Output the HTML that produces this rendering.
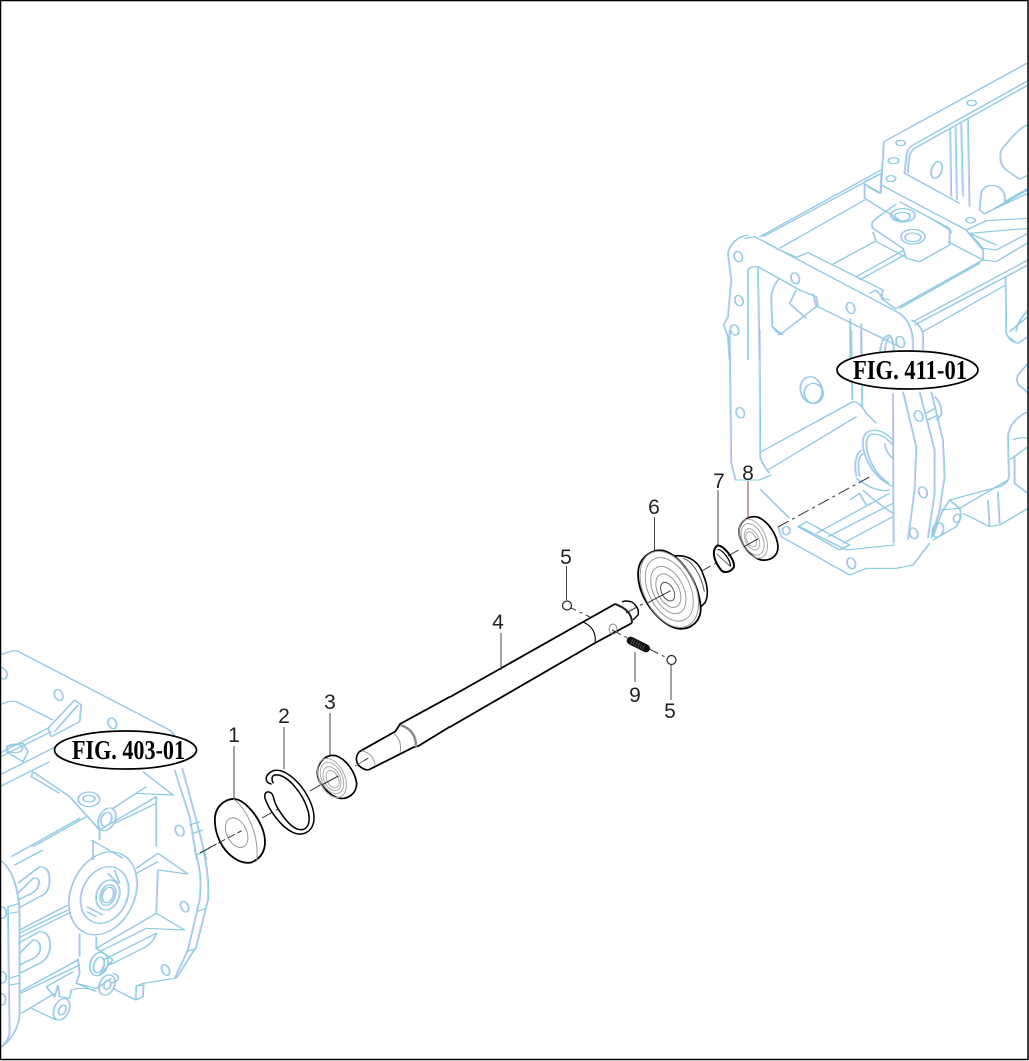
<!DOCTYPE html>
<html><head><meta charset="utf-8"><style>
html,body{margin:0;padding:0;background:#fff}
svg{display:block}
.n{font-family:"Liberation Sans",sans-serif;font-size:21px;fill:#222;text-anchor:middle}
.f{font-family:"Liberation Serif",serif;font-size:27px;font-weight:bold;fill:#000}
.h path,.h ellipse{vector-effect:non-scaling-stroke;fill:none}
.k *{vector-effect:non-scaling-stroke}
</style></head><body>
<svg width="1029" height="1061" viewBox="0 0 1029 1061" xmlns="http://www.w3.org/2000/svg">
<rect width="1029" height="1061" fill="#fff"/>
<defs>
<g id="hs" class="h">
<!-- right housing, upper -->
<g transform="translate(700 60) scale(.33333)">
<path d="M985 8L553 245L543 400M985 62L640 255Q622 265 620 290L615 340L780 430M985 75L645 265Q630 275 628 295L625 340"/>
<path d="M752 205L755 410M768 200L772 420M785 190L790 410M805 178L810 440"/>
<path d="M985 195Q960 200 905 270Q895 310 920 330L960 358L985 345M985 385L915 425Q920 390 890 378Q860 370 845 395L840 450L855 462L985 390M860 458L985 400"/>
<path d="M545 375L800 510L850 570L850 600L890 605L985 548M985 475L860 482L800 510M985 505L810 520L850 565L890 570L985 520M600 425L750 505L755 520M810 520L890 555"/>
<path d="M180 530L545 330M190 530L545 340M240 565L495 420M495 365L545 340L543 400L495 372L495 415L600 480M505 380L540 400"/>
<path d="M530 475L590 432M530 475Q510 490 520 505L610 565L620 595L660 605L750 555L750 510L690 472M520 515L530 545L615 590M745 545L850 600"/>
<path d="M400 612L525 545M470 650L610 572M480 660L615 585M590 745L850 600"/>
<path d="M165 530L600 760Q640 790 640 850L640 900M145 525Q95 535 85 580L95 660L85 770L72 795L85 830L90 900M135 535L165 530L240 570L290 592L325 578L550 690L545 715L590 748M510 700L530 690L550 715L570 720"/>
<path d="M145 900L145 630Q150 618 175 620L300 690L350 710L355 740L600 860M175 620L180 900M240 655Q215 680 215 720L218 800L240 825L350 740L340 700M290 690L270 730L320 775M218 800L250 825M452 900L452 775M485 900L485 790M540 900Q540 830 570 825Q590 850 578 900M555 900Q555 840 570 830"/>
<ellipse cx="816" cy="129" rx="14" ry="8"/><ellipse cx="603" cy="249" rx="14" ry="8"/><ellipse cx="582" cy="302" rx="16" ry="9"/><ellipse cx="574" cy="356" rx="14" ry="9"/><ellipse cx="711" cy="330" rx="15" ry="26" transform="rotate(18 711 330)"/><ellipse cx="813" cy="481" rx="14" ry="8"/>
<ellipse cx="610" cy="466" rx="36" ry="20"/><ellipse cx="608" cy="470" rx="24" ry="13"/><ellipse cx="640" cy="530" rx="36" ry="22"/><ellipse cx="640" cy="532" rx="24" ry="13"/>
<ellipse cx="116" cy="590" rx="12" ry="16" transform="rotate(-20 116 590)"/><ellipse cx="118" cy="722" rx="12" ry="16" transform="rotate(-20 118 722)"/><ellipse cx="105" cy="810" rx="12" ry="16" transform="rotate(-20 105 810)"/><ellipse cx="287" cy="655" rx="12" ry="17" transform="rotate(-20 287 655)"/><ellipse cx="453" cy="744" rx="12" ry="17" transform="rotate(-20 453 744)"/><ellipse cx="602" cy="846" rx="12" ry="17" transform="rotate(-20 602 846)"/>
</g>
<!-- right housing, right side -->
<g transform="translate(900 260) scale(.33333)">
<path d="M0 145L240 10M40 185L385 0M45 195L385 15M70 215L318 75M35 180Q60 190 70 220L70 270M318 50L320 220Q330 245 355 250L385 230M330 215L385 170M325 230L345 245M385 150Q350 190 350 215"/>
<path d="M385 310L355 345Q345 370 370 385L385 400M385 400L365 380M385 455Q330 480 325 530L328 650Q325 670 300 680L150 720M180 745L325 660M190 760L270 800L300 795L385 745M265 720L270 800M295 695L300 790M340 540Q360 530 385 535M330 600L385 560M345 590L345 670L385 700"/>
<path d="M10 395L50 560L45 690L25 840M60 395L105 570L105 700L85 835M95 395L130 540L135 650L120 750L95 835M80 460L105 445M85 480L115 465M105 410Q130 435 125 465L110 480"/>
<path d="M100 830L125 760L150 720L180 745Q190 770 170 800L100 840M120 750L180 745"/>
<ellipse cx="57" cy="468" rx="12" ry="17" transform="rotate(-20 57 468)"/><ellipse cx="70" cy="697" rx="12" ry="17" transform="rotate(-20 70 697)"/><ellipse cx="42" cy="820" rx="12" ry="17" transform="rotate(-20 42 820)"/><ellipse cx="172" cy="775" rx="10" ry="13" transform="rotate(20 172 775)"/><ellipse cx="115" cy="810" rx="16" ry="22" transform="rotate(20 115 810)"/>
</g>
<!-- right housing, lower -->
<g transform="translate(700 330) scale(.33333)">
<path d="M90 0L95 400L108 450L180 450L215 435M180 0L182 380Q185 400 210 430M185 365L460 215Q480 215 500 250L530 280M205 420L470 260M455 0L458 210M485 0L488 230"/>
<path d="M182 478L270 565M235 590L245 620L450 735L500 715L590 715L640 705L690 640M580 190L582 640"/>
<path d="M295 590L320 575L450 645L420 660ZM300 590L440 660M350 610L570 490M385 620L580 520M430 640L580 560M440 660L585 645"/>
<path d="M470 440Q460 380 485 360M480 440Q470 385 490 370M470 445Q530 490 570 480M450 510L480 490L500 525M490 480Q520 510 580 550"/>
<path d="M580 330Q540 290 505 305Q482 320 493 365Q515 440 580 470M580 345Q545 305 512 314Q495 325 503 365Q520 430 568 460M555 340Q560 370 580 385"/>
<ellipse cx="335" cy="180" rx="32" ry="40" transform="rotate(-15 335 180)"/><ellipse cx="342" cy="190" rx="28" ry="30" transform="rotate(-15 342 190)"/>
<ellipse cx="122" cy="248" rx="12" ry="16" transform="rotate(-20 122 248)"/><ellipse cx="455" cy="700" rx="12" ry="17" transform="rotate(-20 455 700)"/><ellipse cx="260" cy="602" rx="11" ry="13"/>
</g>
<!-- left housing, upper -->
<g transform="translate(0 640) scale(.33333)">
<path d="M0 45L40 32Q55 30 70 42L510 270L525 285M525 390L570 530L592 660M548 385L590 540L620 660M570 555L600 545M580 580L610 570"/>
<path d="M145 265L225 180L245 195L240 245L155 290ZM165 275L235 195M0 195Q40 175 60 190L160 240M0 340L150 262M0 352L155 275M0 405L165 322M0 440L150 365M20 320L70 310L85 335L70 365L20 335"/>
<path d="M100 395L210 470L300 570L300 600M100 395L95 410L180 460M340 505L440 440M410 460L520 465L430 395M300 570L470 470L470 620M345 550L470 490M280 600L280 660M35 650L240 535M100 620L260 530M275 600L370 655"/>
<ellipse cx="45" cy="325" rx="24" ry="13"/><ellipse cx="268" cy="478" rx="32" ry="22"/><ellipse cx="268" cy="476" rx="18" ry="10"/><ellipse cx="322" cy="538" rx="24" ry="36" transform="rotate(25 322 538)"/><ellipse cx="320" cy="538" rx="15" ry="22" transform="rotate(25 320 538)"/>
<ellipse cx="8" cy="100" rx="13" ry="18" transform="rotate(-25 8 100)"/><ellipse cx="177" cy="165" rx="12" ry="17" transform="rotate(-25 177 165)"/><ellipse cx="338" cy="250" rx="12" ry="17" transform="rotate(-25 338 250)"/><ellipse cx="540" cy="572" rx="12" ry="17" transform="rotate(-25 540 572)"/>
</g>
<!-- left housing, lower -->
<g transform="translate(0 850) scale(.33333)">
<path d="M585 0Q610 70 600 150L565 300L525 385L430 400L410 408L408 450L340 415M610 0Q630 70 625 150L590 290L530 385M410 408L432 405L430 440L408 450M560 305L590 295M590 185L620 175M590 15L620 0"/>
<path d="M0 30Q50 60 60 180L60 500Q50 560 0 595M25 170L30 550Q25 575 5 590M25 170L60 160M30 190L60 185M30 385L60 375M30 405L60 400"/>
<path d="M55 100L120 50Q150 50 150 90Q150 130 120 140L55 175M55 130L100 85Q120 80 118 100Q115 125 85 135L55 150M55 280L120 245Q150 245 152 285Q150 330 110 345L60 370M60 310L100 270Q122 270 122 295Q120 320 90 330L60 345"/>
<path d="M45 45L130 0M60 240L205 165M58 250L205 180M60 262L210 188M60 425L235 330M62 430L240 345M65 490L165 430M95 475L170 510M140 410L220 365M240 250L240 320M290 260L290 295L470 190L555 240L440 235L300 305M470 190L475 60L565 72L475 10L410 55M410 70L475 35"/>
<path d="M235 325L240 370L230 400L290 425M290 295L340 330L300 375M230 400L290 415L335 385M335 400L355 390Q360 375 340 370M310 330L470 250Q465 270 440 290L330 345M140 410L165 440L175 405L180 440L210 445L215 420Q240 410 285 420"/>
<ellipse cx="310" cy="130" rx="95" ry="130" transform="rotate(25 310 130)"/><ellipse cx="315" cy="135" rx="68" ry="88" transform="rotate(25 315 135)"/><ellipse cx="325" cy="135" rx="34" ry="46" transform="rotate(20 325 135)"/><ellipse cx="325" cy="135" rx="22" ry="32" transform="rotate(20 325 135)"/><ellipse cx="325" cy="135" rx="16" ry="24" transform="rotate(20 325 135)"/>
<path d="M262 170L310 195M262 185L290 200M325 70L355 100M345 60L360 100"/>
<ellipse cx="298" cy="342" rx="26" ry="36" transform="rotate(20 298 342)"/><ellipse cx="298" cy="345" rx="15" ry="24" transform="rotate(20 298 345)"/><ellipse cx="322" cy="405" rx="22" ry="32" transform="rotate(25 322 405)"/><ellipse cx="323" cy="405" rx="10" ry="14" transform="rotate(25 323 405)"/><ellipse cx="186" cy="478" rx="22" ry="34" transform="rotate(25 186 478)"/><ellipse cx="188" cy="480" rx="10" ry="16" transform="rotate(25 188 480)"/>
<ellipse cx="555" cy="170" rx="11" ry="17" transform="rotate(-25 555 170)"/><ellipse cx="498" cy="360" rx="11" ry="17" transform="rotate(-25 498 360)"/><ellipse cx="8" cy="188" rx="12" ry="17"/><ellipse cx="8" cy="382" rx="12" ry="17"/><ellipse cx="8" cy="448" rx="10" ry="17"/>
</g>
</g>
<clipPath id="c"><rect x="0" y="0" width="1027" height="1061"/></clipPath>
</defs>
<g clip-path="url(#c)">
<use href="#hs" transform="translate(-1 0)" stroke="#c9c9fb" stroke-width="1"/>
<use href="#hs" stroke="#84cddd" stroke-width="1"/>
</g>

<!-- axis -->
<g stroke="#333" stroke-width="1" fill="none" stroke-dasharray="12 4 3 4">
<path d="M200 853L222 841M262 818L280 808M310 791L322 784M358 764L372 756M626 613L650 600M700 572L716 563M728 556L742 548M778 527L873 475"/>
<path d="M567 606L590 617M612 630L671 660" stroke-dasharray="10 4 3 4"/>
</g>

<!-- parts 1-3 -->
<g class="k" transform="translate(200 700) scale(.33333)">
<path d="M45 350C50 310 85 295 105 297C130 300 165 335 185 380C205 430 195 470 155 487C120 495 80 465 60 425C48 400 43 375 45 350Z" fill="#fff" stroke="#000" stroke-width="1.8"/>
<path d="M100 297C135 320 180 400 170 485" fill="none" stroke="#999" stroke-width="1"/>
<ellipse cx="110" cy="398" rx="30" ry="47" transform="rotate(-25 110 398)" fill="#fff" stroke="#999" stroke-width="1"/>
<path d="M25 445L125 392" stroke="#333" stroke-dasharray="8 3" stroke-width="1"/>
<path d="M215 252C195 250 190 225 220 212C270 200 340 290 342 350C343 395 310 410 280 398C240 380 205 325 195 295C190 270 215 270 220 290C225 320 265 380 295 388C325 395 332 365 325 335C310 280 260 220 225 225C213 228 215 240 220 250" fill="none" stroke="#000" stroke-width="1.5"/>
<path d="M352 215C355 180 385 160 410 168C440 180 465 215 470 250C470 280 445 298 420 295C390 290 350 250 352 215Z" fill="#fff" stroke="#000" stroke-width="1.7"/>
<g fill="none" stroke="#aaa" stroke-width="1">
<ellipse cx="396" cy="234" rx="38" ry="62" transform="rotate(-25 396 234)"/><ellipse cx="396" cy="234" rx="31" ry="50" transform="rotate(-25 396 234)"/><ellipse cx="396" cy="236" rx="24" ry="38" transform="rotate(-25 396 236)"/><ellipse cx="398" cy="238" rx="17" ry="28" transform="rotate(-25 398 238)"/>
</g>
<path d="M365 255L415 228" stroke="#333" stroke-width="1"/>
</g>

<!-- part 4 shaft -->
<g class="k" transform="translate(350 690) scale(.33333)">
<path d="M28 185L135 125Q145 112 150 102L300 20M55 240L190 172L205 168L300 110" fill="none" stroke="#000" stroke-width="1.8"/>
<path d="M28 185Q12 205 25 225Q40 240 55 240" fill="#fff" stroke="#000" stroke-width="1.6"/>
<path d="M35 182Q70 190 75 225" fill="none" stroke="#999" stroke-width="1"/>
<path d="M130 130Q158 150 150 190" fill="none" stroke="#999" stroke-width="1"/>
<path d="M152 105Q200 122 198 172" fill="none" stroke="#888" stroke-width="2.4"/>
<path d="M15 228L42 212" stroke="#555" stroke-width=".8"/>
</g>
<g fill="none" stroke="#000">
<path d="M450 697L583 622M450 727L595 643" stroke-width="1.8"/>
<path d="M583 622Q597 628 595 643" stroke-width="1.1"/>
<path d="M583 622L615 604M595 643L632 623" stroke-width="1.8"/>
<path d="M615 604Q632 610 632 623" stroke="#222" stroke-width="2"/>
<path d="M622 602Q625 600 632 602Q640 608 638 615L633 620" stroke-width="1.4"/>
<ellipse cx="613" cy="629" rx="4" ry="5" stroke="#777" stroke-width=".8"/>
</g>

<!-- part 6-9 -->
<g class="k" transform="translate(540 480) scale(.33333)">
<path d="M400 228C450 222 480 250 490 285C505 320 505 350 495 368L478 385" fill="#fff" stroke="#000" stroke-width="1.6"/>
<path d="M430 235C460 245 485 290 493 335" fill="none" stroke="#555" stroke-width="1"/>
<path d="M295 270C300 230 340 205 370 212C420 225 475 300 482 380C485 425 450 450 415 446C370 440 310 375 297 310C294 295 294 280 295 270Z" fill="#fff" stroke="#000" stroke-width="1.8"/>
<g fill="none" stroke="#999" stroke-width="1">
<ellipse cx="388" cy="328" rx="76" ry="122" transform="rotate(-27 388 328)"/><ellipse cx="388" cy="328" rx="62" ry="102" transform="rotate(-27 388 328)"/><ellipse cx="385" cy="330" rx="45" ry="76" transform="rotate(-27 385 330)"/><ellipse cx="385" cy="332" rx="32" ry="54" transform="rotate(-27 385 332)"/>
</g>
<ellipse cx="383" cy="335" rx="18" ry="30" transform="rotate(-27 383 335)" fill="#fff" stroke="#555" stroke-width="1"/>
<path d="M320 370L392 332" stroke="#333" stroke-width="1"/>
<path d="M533 196C555 198 584 240 582 260C574 276 555 280 545 272C526 250 510 213 533 196Z" fill="none" stroke="#000" stroke-width="2"/>
<path d="M533 208C550 210 570 240 572 258" fill="none" stroke="#000" stroke-width="1.2"/>
<path d="M530 222L572 260" fill="none" stroke="#444" stroke-width=".8"/>
<path d="M597 150C600 120 630 105 655 112C685 125 712 165 714 200C714 230 690 243 665 240C635 235 595 190 597 150Z" fill="#fff" stroke="#000" stroke-width="1.7"/>
<g fill="none" stroke="#aaa" stroke-width="1">
<ellipse cx="640" cy="176" rx="37" ry="62" transform="rotate(-25 640 176)"/><ellipse cx="638" cy="178" rx="30" ry="50" transform="rotate(-25 638 178)"/><ellipse cx="636" cy="178" rx="20" ry="34" transform="rotate(-25 636 178)"/><ellipse cx="634" cy="178" rx="14" ry="24" transform="rotate(-25 634 178)"/>
</g>
<path d="M612 200L655 176" stroke="#333" stroke-width="1"/>
<path d="M272 482L318 505" stroke="#111" stroke-width="8" stroke-linecap="round"/>
<path d="M278 478L272 492M285 481L279 495M292 485L286 499M299 489L293 503M306 492L300 506M313 496L307 510" stroke="#666" stroke-width=".7"/>
</g>

<!-- balls 5 -->
<circle cx="567" cy="605.5" r="4.5" fill="#fff" stroke="#222" stroke-width="1.2"/>
<circle cx="671.5" cy="660" r="4.5" fill="#fff" stroke="#222" stroke-width="1.2"/>

<!-- leaders -->
<g stroke="#444" stroke-width="1" fill="none">
<path d="M234 746V799M284 727V769M330 713V755M501 633V670M566.5 566V600M671 665V700M635 652V682M654.5 517V550M718 490V545"/>
<path d="M748 481V519" stroke="#844"/>
</g>

<!-- numbers -->
<text class="n" x="234" y="742">1</text>
<text class="n" x="284" y="723">2</text>
<text class="n" x="330" y="709">3</text>
<text class="n" x="498" y="629">4</text>
<text class="n" x="566" y="564">5</text>
<text class="n" x="670" y="718">5</text>
<text class="n" x="654" y="514">6</text>
<text class="n" x="719" y="488">7</text>
<text class="n" x="748" y="480">8</text>
<text class="n" x="635" y="702">9</text>

<!-- FIG labels -->
<ellipse cx="907.5" cy="370" rx="70.5" ry="19" fill="#fff" stroke="#000" stroke-width="1.7"/>
<text class="f" x="853" y="379" textLength="114" lengthAdjust="spacingAndGlyphs">FIG. 411-01</text>
<ellipse cx="125.5" cy="750" rx="71" ry="19" fill="#fff" stroke="#000" stroke-width="1.7"/>
<text class="f" x="72" y="759" textLength="113" lengthAdjust="spacingAndGlyphs">FIG. 403-01</text>

<!-- frame -->
<rect x=".5" y=".5" width="1027.5" height="1059" fill="none" stroke="#000" stroke-width="1.5"/>
</svg>
</body></html>
